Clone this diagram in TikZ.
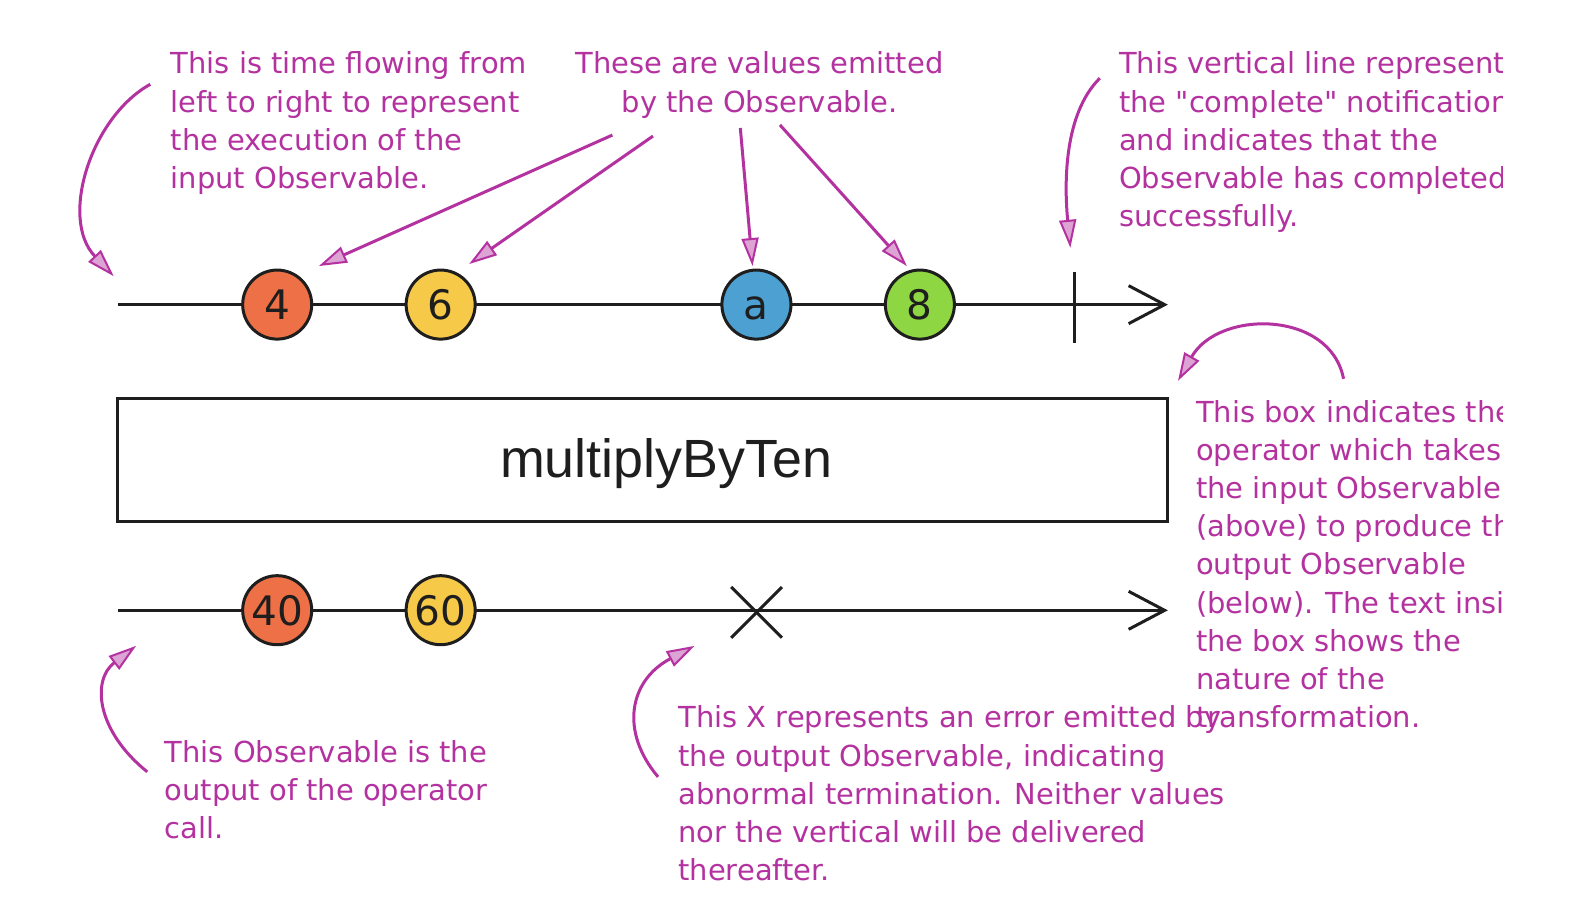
\documentclass[tikz,border=0pt]{standalone}
\usepackage{fontspec}
\setmainfont{DejaVu Sans}
\newfontfamily\annfont{DejaVu Sans}
\newfontfamily\boxfont{Liberation Sans}
\usetikzlibrary{arrows.meta}
\definecolor{mag}{RGB}{180,50,160}
\definecolor{ballorange}{RGB}{238,112,70}
\definecolor{ballyellow}{RGB}{246,202,72}
\definecolor{ballblue}{RGB}{76,160,210}
\definecolor{ballgreen}{RGB}{142,214,66}
\definecolor{ink}{RGB}{30,30,30}
\tikzset{
  ann/.style={text=mag, font=\annfont\fontsize{28.5}{37.6}\selectfont, align=left, inner sep=0pt, anchor=north west},
  annarrow/.style={draw=mag, line width=3pt, -{Triangle[length=28pt,width=17pt,line width=2pt,fill=mag!45]}},
  axis/.style={draw=ink, line width=3pt, -{Straight Barb[length=36pt,width=38pt,line width=3pt]}},
  ball/.style={circle, draw=ink, line width=3pt, minimum size=68pt, inner sep=0pt, text=ink,
     text height=29.2pt, text depth=0pt, font=\fontsize{40}{40}\selectfont},
  strokeline/.style={draw=ink, line width=3pt},
}
\begin{document}
\begin{tikzpicture}[x=1pt,y=-1pt,scale=1.0153,transform shape]
\useasboundingbox (0,0) rectangle (1568,908.1);
\fill[white] (0,0) rectangle (1568,908.1);

% input timeline
\coordinate (in0) at (116,300);
\coordinate (in1) at (1150,300);
\draw[axis] (in0) -- (in1);
\coordinate (ctop) at (1058,268);
\coordinate (cbot) at (1058,338);
\draw[strokeline] (ctop) -- (cbot);
\node[ball, fill=ballorange] (b4) at (273,300) {4};
\node[ball, fill=ballyellow] (b6) at (434,300) {6};
\node[ball, fill=ballblue] (ba) at (745,300) {a};
\node[ball, fill=ballgreen] (b8) at (906,300) {8};

% operator box
\node[draw=ink, line width=3pt, minimum width=1034pt, minimum height=122pt, inner sep=0pt] (op) at (633,453) {};
\node[font=\boxfont\fontsize{53}{53}\selectfont, text=ink, inner sep=0pt, anchor=base] (optext) at (656,470) {multiplyByTen};

% output timeline
\coordinate (out0) at (116,601);
\coordinate (out1) at (1150,601);
\draw[axis] (out0) -- (out1);
\node[ball, fill=ballorange] (b40) at (273,601) {40};
\node[ball, fill=ballyellow] (b60) at (434,601) {60};
\coordinate (xa) at (720,578);
\coordinate (xb) at (770,628);
\coordinate (xc) at (770,578);
\coordinate (xd) at (720,628);
\draw[strokeline] (xa) -- (xb);
\draw[strokeline] (xc) -- (xd);

% annotations
\node[ann] (t1) at (168,51) {This is time flowing from\\left to right to represent\\the execution of the\\input Observable.};
\node[ann, align=center, anchor=north] (t2) at (748,51) {These are values emitted\\by the Observable.};
\begin{scope}
\clip (0,0) rectangle (1480,908);
\node[ann] (t3) at (1102,51) {This vertical line represents\\the "complete" notification\\and indicates that the\\Observable has completed\\successfully.};
\node[ann] (t4) at (1178,394) {This box indicates the\\operator which takes\\the input Observable\\(above) to produce the\\output Observable\\(below). The text inside\\the box shows the\\nature of the\\transformation.};
\end{scope}
\node[ann] (t5) at (162,729) {This Observable is the\\output of the operator\\call.};
\node[ann] (t6) at (668,695) {This X represents an error emitted by\\the output Observable, indicating\\abnormal termination. Neither values\\nor the vertical will be delivered\\thereafter.};

% annotation arrows
\coordinate (s1) at (148,83);   \coordinate (e1) at (112,272);
\draw[annarrow] (s1) .. controls (90,115) and (58,215) .. (e1);
\coordinate (s2) at (603,133);  \coordinate (e2) at (314,262);
\draw[annarrow] (s2) -- (e2);
\coordinate (s3) at (643,134);  \coordinate (e3) at (462,260);
\draw[annarrow] (s3) -- (e3);
\coordinate (s4) at (729,126);  \coordinate (e4) at (741,262);
\draw[annarrow] (s4) -- (e4);
\coordinate (s5) at (768,123);  \coordinate (e5) at (893,262);
\draw[annarrow] (s5) -- (e5);
\coordinate (s6) at (1083,77);  \coordinate (e6) at (1054,244);
\draw[annarrow] (s6) .. controls (1048,112) and (1048,180) .. (e6);
\coordinate (s7) at (1323,373); \coordinate (e7) at (1160,375);
\draw[annarrow] (s7) .. controls (1310,305) and (1200,305) .. (e7);
\coordinate (s8) at (145,760);  \coordinate (e8) at (134,636);
\draw[annarrow] (s8) .. controls (95,720) and (90,670) .. (e8);
\coordinate (s9) at (648,765);  \coordinate (e9) at (684,636);
\draw[annarrow] (s9) .. controls (610,720) and (620,670) .. (e9);
\end{tikzpicture}
\end{document}
